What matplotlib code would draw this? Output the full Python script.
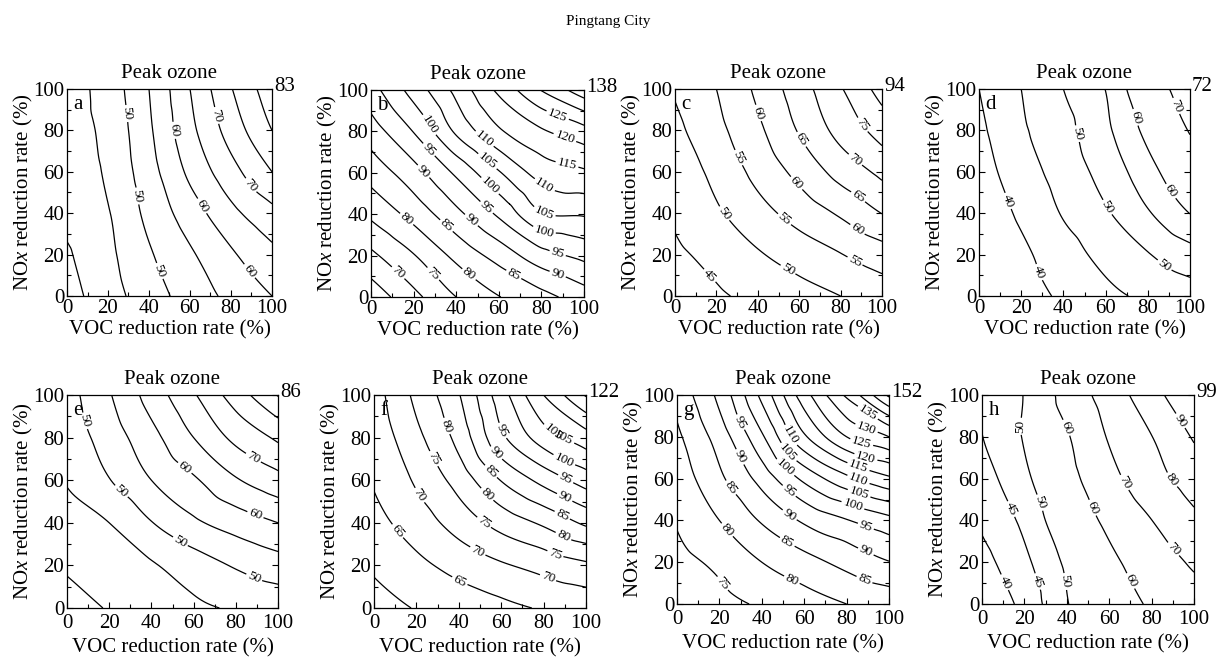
import numpy as np
import matplotlib
matplotlib.use('Agg')
import matplotlib.pyplot as plt
import matplotlib.tri as mtri
from matplotlib.ticker import MultipleLocator

plt.rcParams['font.family'] = ['Liberation Serif', 'DejaVu Serif']
plt.rcParams['mathtext.fontset'] = 'custom'
plt.rcParams['mathtext.rm'] = 'Liberation Serif'
plt.rcParams['mathtext.it'] = 'Liberation Serif:italic'

# Data: peak ozone read off the isopleths on a 20 % grid
# rows = NOx reduction rate, columns = VOC reduction rate
# -------------------------------------------------------
voc_cut = [0, 20, 40, 60, 80, 100]
nox_cut = [0, 20, 40, 60, 80, 100]

ozone_a = [[38.0, 42.9, 47.6, 52.2, 56.3, 60.0],
           [39.4, 43.9, 49.4, 54.3, 59.3, 63.7],
           [41.5, 44.7, 51.4, 57.5, 63.6, 68.6],
           [42.0, 45.8, 53.0, 61.1, 68.2, 75.0],
           [42.5, 46.5, 54.2, 63.6, 72.1, 80.0],
           [42.5, 47.3, 55.0, 65.0, 74.7, 83.0]]
ozone_b = [[61.8, 68.6, 75.0, 79.8, 83.3, 87.5],
           [68.9, 74.7, 81.3, 86.9, 93.0, 96.3],
           [76.0, 81.8, 88.6, 95.8, 104.5, 105.5],
           [82.0, 88.0, 95.9, 104.5, 112.0, 114.2],
           [87.5, 95.2, 105.8, 114.2, 119.3, 123.2],
           [93.0, 102.0, 111.4, 121.0, 130.2, 138.0]]
ozone_c = [[42.5, 44.3, 46.2, 48.1, 50.0, 52.0],
           [44.1, 46.5, 49.5, 52.2, 54.8, 57.7],
           [45.7, 49.3, 53.2, 57.0, 60.7, 65.1],
           [47.3, 51.3, 56.5, 61.5, 66.8, 71.2],
           [48.8, 53.6, 59.0, 65.4, 71.7, 77.0],
           [50.5, 55.0, 61.0, 67.7, 74.6, 82.0]]
ozone_d = [[34.9, 37.9, 40.8, 43.8, 46.0, 47.5],
           [35.9, 39.0, 42.8, 46.5, 49.7, 53.1],
           [36.9, 40.8, 45.4, 49.4, 54.5, 60.1],
           [38.0, 42.6, 47.2, 51.9, 58.1, 65.1],
           [39.0, 44.2, 48.4, 54.0, 61.6, 70.5],
           [40.0, 45.0, 50.0, 55.1, 65.5, 74.0]]
ozone_e = [[38.2, 40.3, 42.2, 44.1, 45.6, 46.5],
           [40.6, 42.6, 44.5, 47.5, 50.5, 52.8],
           [43.1, 45.0, 49.8, 54.1, 57.2, 60.0],
           [45.4, 49.8, 55.0, 59.3, 64.5, 68.3],
           [47.0, 52.4, 58.4, 65.0, 71.3, 75.9],
           [48.0, 54.6, 62.1, 69.5, 77.4, 85.3]]
ozone_f = [[58.1, 60.3, 62.0, 63.7, 65.5, 66.5],
           [60.8, 63.8, 66.7, 69.4, 71.8, 74.1],
           [63.4, 67.4, 72.1, 76.9, 80.9, 85.9],
           [65.5, 70.7, 77.0, 85.2, 91.6, 97.3],
           [66.6, 73.7, 81.7, 93.9, 102.5, 107.8],
           [67.8, 76.2, 84.7, 97.8, 110.0, 120.5]]
ozone_g = [[71.5, 73.5, 75.6, 77.8, 80.0, 81.5],
           [73.5, 76.1, 80.0, 83.2, 86.6, 89.8],
           [75.4, 80.0, 85.5, 90.8, 94.7, 98.5],
           [77.2, 84.0, 91.9, 101.2, 108.7, 114.1],
           [79.0, 87.3, 99.2, 114.2, 125.0, 130.0],
           [81.5, 91.4, 106.3, 122.9, 135.9, 151.0]]
ozone_h = [[35.0, 41.6, 49.7, 55.0, 61.2, 66.0],
           [38.2, 43.9, 51.0, 58.1, 64.8, 71.3],
           [40.9, 46.2, 54.2, 62.0, 69.9, 77.9],
           [42.9, 48.8, 56.9, 67.0, 76.3, 84.5],
           [44.9, 50.5, 59.2, 70.8, 79.8, 91.0],
           [46.5, 50.3, 63.5, 74.5, 86.3, 99.0]]

panel_ids = ['a', 'b', 'c', 'd', 'e', 'f', 'g', 'h']
peak_max = ['83', '138', '94', '72', '86', '122', '152', '99']
fields = [ozone_a, ozone_b, ozone_c, ozone_d, ozone_e, ozone_f, ozone_g, ozone_h]

levels_all = [list(range(40, 81, 5)), list(range(65, 136, 5)), list(range(45, 81, 5)),
              [40, 45, 50, 55, 60, 70], list(range(40, 86, 5)), list(range(60, 121, 5)),
              list(range(75, 151, 5)), [40, 45, 50, 60, 70, 80, 90]]
levels_lab = [[50, 60, 70], list(range(70, 126, 5)), list(range(45, 76, 5)),
              [40, 50, 60, 70], [50, 60, 70], list(range(65, 111, 5)),
              list(range(75, 136, 5)), [40, 45, 50, 60, 70, 80, 90]]

# Label placement (data coords)
lab_pos = [
    [(28, 88), (32, 48), (45, 12), (52, 80), (65, 43), (89, 12), (72, 87), (89, 53)],
    [(13, 12), (30, 12), (17, 38), (46, 11), (35, 34), (66, 9), (25, 61), (47, 37), (87, 9),
     (27, 71), (54, 43), (87, 19), (27, 83), (57, 55), (81, 31), (55, 66), (81, 40),
     (53, 76), (79, 50), (92, 64), (90, 74), (87, 86)],
    [(18, 11), (24, 40), (53, 10), (29, 66), (52, 36), (87, 17), (39, 88), (57, 53), (88, 32),
     (60, 75), (87, 46), (84, 62), (88, 81)],
    [(14, 46), (30, 12), (49, 79), (61, 43), (88, 15), (73, 86), (90, 50), (89, 90)],
    [(9, 88), (25, 54), (53, 30), (89, 15), (56, 66), (89, 43), (88, 70)],
    [(11, 36), (39, 10), (20, 52), (48, 25), (82, 14), (26, 69), (51, 39), (85, 24),
     (33, 85), (53, 53), (89, 33), (54, 63), (88, 42), (59, 74), (89, 50), (60, 83),
     (89, 58), (89, 68), (88, 77), (87, 85)],
    [(23, 11), (22, 34), (53, 9), (23, 54), (51, 28), (89, 13), (27, 69), (52, 41), (89, 25),
     (28, 86), (52, 53), (89, 37), (50, 64), (82, 44), (53, 73), (85, 50), (54, 81),
     (85, 58), (85, 64), (89, 70), (87, 77), (89, 83), (89, 90)],
    [(12, 11), (15, 46), (27, 11), (19, 85), (26, 48), (41, 11), (39, 84), (52, 46),
     (70, 11), (67, 58), (90, 26), (89, 59), (91, 86)],
]

# Axes boxes in pixels (left, top, right, bottom)
W, H = 1216, 659
boxes = [(67, 89, 272, 296), (371, 90, 584, 297), (675, 89, 882, 296), (979, 89, 1190, 296),
         (67, 395, 278, 608), (374, 395, 586, 608), (677, 395, 889, 604), (982, 395, 1194, 604)]

fs = 15
fig = plt.figure(figsize=(W / 100, H / 100), dpi=100)
fig.text(0.5, 0.968, 'Pingtang City', ha='center', va='center', fontsize=11)

gx, gy = np.meshgrid(voc_cut, nox_cut)
tri = mtri.Triangulation(gx.ravel(), gy.ravel())
refiner = mtri.UniformTriRefiner(tri)

for i in range(8):
    l, t, r, b = boxes[i]
    ax = fig.add_axes([l / W, 1 - b / H, (r - l) / W, (b - t) / H])
    z = np.array(fields[i], dtype=float).ravel()
    interp = mtri.CubicTriInterpolator(tri, z, kind='geom')
    tri_r, z_r = refiner.refine_field(z, triinterpolator=interp, subdiv=4)

    plain = [v for v in levels_all[i] if v not in levels_lab[i]]
    if plain:
        ax.tricontour(tri_r, z_r, levels=plain, colors='k', linewidths=0.9)
    cs = ax.tricontour(tri_r, z_r, levels=levels_lab[i], colors='k', linewidths=0.9)
    ax.clabel(cs, fmt='%d', fontsize=9.5, inline=True, inline_spacing=2,
              manual=lab_pos[i])

    bottom_row = i >= 4
    ax.set_xlim(0, 100)
    ax.set_ylim(0, 100)
    ax.xaxis.set_major_locator(MultipleLocator(20))
    ax.xaxis.set_minor_locator(MultipleLocator(10))
    ax.yaxis.set_major_locator(MultipleLocator(20))
    ax.yaxis.set_minor_locator(MultipleLocator(10))
    ax.tick_params(which='both', direction='in', right=True, top=False,
                   labelsize=fs, pad=2, width=0.8)
    ax.tick_params(axis='x', which='both', pad=4 if bottom_row else 2)
    ax.tick_params(which='major', length=4)
    ax.tick_params(which='minor', length=3)
    for sp in ax.spines.values():
        sp.set_linewidth(0.9)

    ax.set_title('Peak ozone', fontsize=fs, pad=8)
    ax.set_xlabel('VOC reduction rate (%)', fontsize=fs, labelpad=4 if bottom_row else 2)
    ax.set_ylabel('NO$\\it{x}$ reduction rate (%)', fontsize=fs, labelpad=-1.5)
    ax.text(0.03, 0.97, panel_ids[i], transform=ax.transAxes, ha='left', va='top', fontsize=fs)
    ax.text(1.01, 1.01, peak_max[i], transform=ax.transAxes, ha='left', va='center', fontsize=fs)

fig.savefig('out.png', dpi=100, facecolor='w')
